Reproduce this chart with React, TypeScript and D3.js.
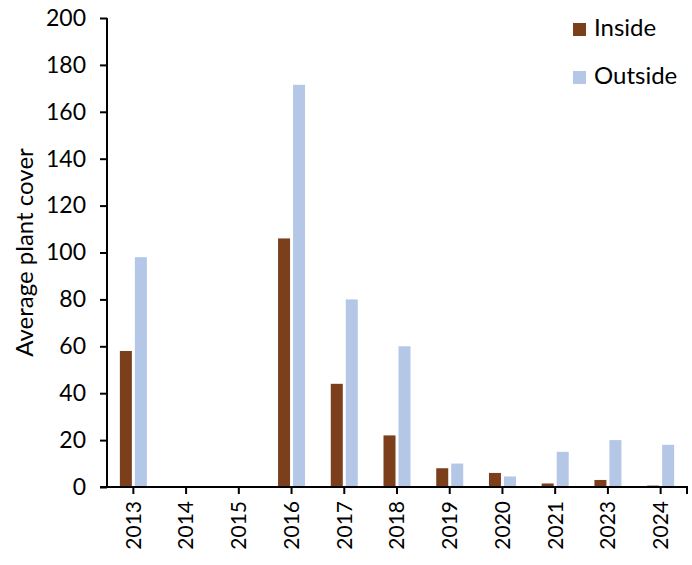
import * as React from 'react';
import {useEffect, useRef} from 'react';
import * as d3 from 'd3';

const years = ['2013', '2014', '2015', '2016', '2017', '2018', '2019', '2020', '2021', '2023', '2024'];
const inside = [58, 0, 0, 106, 44, 22, 8, 6, 1.5, 3, 0.6];
const outside = [98, 0, 0, 171.5, 80, 60, 10, 4.5, 15, 20, 18];
const seriesNames = ['Inside', 'Outside'];
const seriesColors = ['#7b3f1c', '#b4c7e7'];
const yTicks = [0, 20, 40, 60, 80, 100, 120, 140, 160, 180, 200];

const width = 692;
const height = 565;
const margin = {left: 107, right: 5, top: 18, bottom: 78};
const font = 'Lato, "Open Sans", sans-serif';

export default function App() {
  const ref = useRef<SVGSVGElement>(null);

  useEffect(() => {
    const svg = d3.select(ref.current);
    svg.selectAll('*').remove();

    const x0 = d3.scaleBand()
      .domain(years)
      .range([margin.left, width - margin.right])
      .padding(0);

    const bw = x0.bandwidth();
    const x1 = d3.scaleBand()
      .domain(seriesNames)
      .range([bw / 2 - 13.5, bw / 2 + 13.5])
      .paddingInner(0.2)
      .paddingOuter(0);

    const y = d3.scaleLinear()
      .domain([0, 200])
      .range([height - margin.bottom, margin.top]);

    const color = d3.scaleOrdinal<string>().domain(seriesNames).range(seriesColors);

    const rows = years.map((yr, i) => ({year: yr, values: [inside[i], outside[i]]}));

    const groups = svg.append('g')
      .selectAll('g')
      .data(rows)
      .join('g')
      .attr('transform', d => `translate(${x0(d.year)},0)`);

    groups.selectAll('rect')
      .data(d => d.values.map((v, j) => ({key: seriesNames[j], v})))
      .join('rect')
      .attr('x', d => x1(d.key)!)
      .attr('width', x1.bandwidth())
      .attr('y', d => y(d.v))
      .attr('height', d => y(0) - y(d.v))
      .attr('fill', d => color(d.key));

    // y axis
    const yAxis = svg.append('g')
      .attr('transform', `translate(${margin.left},0)`)
      .call(d3.axisLeft(y).tickValues(yTicks).tickSize(7).tickPadding(14));
    yAxis.select('.domain').attr('stroke', '#000').attr('stroke-width', 2)
      .attr('d', `M0,${y(0)}V${y(200)}`);
    yAxis.selectAll('.tick line').attr('stroke', '#000').attr('stroke-width', 2);
    yAxis.selectAll('.tick text')
      .attr('font-family', font)
      .attr('font-size', 23)
      .attr('fill', '#000');

    // x axis
    const xAxis = svg.append('g')
      .attr('transform', `translate(0,${y(0)})`)
      .call(d3.axisBottom(x0).tickSize(7).tickSizeOuter(0));
    xAxis.select('.domain').attr('stroke', '#000').attr('stroke-width', 2)
      .attr('d', `M${margin.left - 7},0H${width - margin.right}V7`);
    xAxis.selectAll('.tick line').attr('stroke', '#000').attr('stroke-width', 2);
    xAxis.selectAll('.tick text')
      .attr('font-family', font)
      .attr('font-size', 21)
      .attr('fill', '#000')
      .attr('text-anchor', 'end')
      .attr('transform', 'rotate(-90)')
      .attr('x', -14)
      .attr('y', 0)
      .attr('dy', '0.35em');

    // y label
    svg.append('text')
      .attr('transform', `translate(33,${(y(0) + y(200)) / 2}) rotate(-90)`)
      .attr('text-anchor', 'middle')
      .attr('font-family', font)
      .attr('font-size', 24)
      .attr('fill', '#000')
      .text('Average plant cover');

    // legend
    const legend = svg.append('g')
      .selectAll('g')
      .data(seriesNames)
      .join('g')
      .attr('transform', (d, i) => `translate(573,${23 + i * 48})`);
    legend.append('rect')
      .attr('width', 13)
      .attr('height', 13)
      .attr('fill', d => color(d));
    legend.append('text')
      .attr('x', 21)
      .attr('y', 13)
      .attr('font-family', font)
      .attr('font-size', 24)
      .attr('fill', '#000')
      .text(d => d);
  }, []);

  return (
    <svg ref={ref} width={width} height={height}
      style={{position: 'absolute', left: 0, top: 0, background: '#fff'}} />
  );
}
